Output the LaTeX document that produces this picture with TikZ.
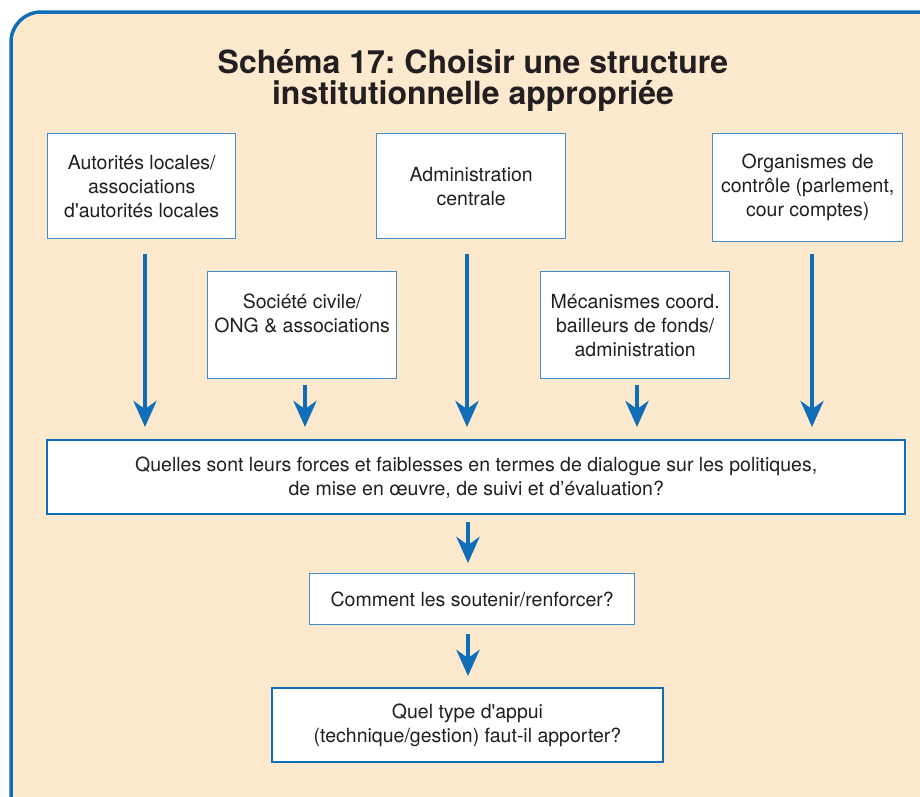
\documentclass[tikz,border=0pt]{standalone}
\usepackage{fontspec}
\setmainfont{TeX Gyre Heros}
\usepackage{tikz}
\usetikzlibrary{calc}
\usetikzlibrary{arrows.meta}
\frenchspacing

\definecolor{frameblue}{RGB}{16,110,184}
\definecolor{boxblue}{RGB}{70,140,200}
\definecolor{cream}{RGB}{253,234,206}
\definecolor{inkgrey}{RGB}{35,31,32}

\begin{document}
\begin{tikzpicture}[x = 1pt, y = -1pt]

\tikzstyle{box_top}=[rectangle, draw=boxblue, line width = 1.4, fill=white, inner sep = 0, anchor = north west, align = center, text = inkgrey, font = \fontsize{19.5}{24}\selectfont]
\tikzstyle{box_main}=[box_top, draw=frameblue, line width = 2.4]
\tikzstyle{flow}=[-{Stealth[length = 26pt, width = 23pt, inset = 8pt]}, line width = 4.5, color = frameblue]

\useasboundingbox (0, 0) rectangle (920, 796);
\clip (0, 0) rectangle (920, 796);

% background frame
\draw[line width = 3.5, draw = frameblue, fill = cream, rounded corners = 30] (11, 12) rectangle (980, 850);

\node[align = center, text = inkgrey, font = \fontsize{32}{31}\selectfont\bfseries] (title) at (473, 80) {Sch\'ema 17: Choisir une structure\\institutionnelle appropri\'ee};

% upper row
\node[box_top, minimum width = 188, minimum height = 105] (autorites) at (47, 133) {Autorit\'es locales/\\associations\\d\textquotesingle autorit\'es locales};
\node[box_top, minimum width = 189, minimum height = 105] (admin) at (376, 133) {Administration\\centrale};
\node[box_top, minimum width = 190, minimum height = 108] (controle) at (712, 133) {Organismes de\\contr\^ole (parlement,\\cour comptes)};

% lower row
\node[box_top, minimum width = 189, minimum height = 107] (civile) at (207, 271) {Soci\'et\'e civile/\\ONG \& associations\\\mbox{}};
\node[box_top, minimum width = 189, minimum height = 107] (bailleurs) at (540, 271) {M\'ecanismes coord.\\bailleurs de fonds/\\administration};

% questions
\node[box_main, minimum width = 858, minimum height = 74] (forces) at (46, 439) {Quelles sont leurs forces et faiblesses en termes de dialogue sur les politiques,\\de mise en \oe uvre, de suivi et d’\'evaluation?};
\node[box_top, minimum width = 325, minimum height = 51] (soutenir) at (309, 573) {Comment les soutenir/renforcer?};
\node[box_main, line width = 2, minimum width = 391, minimum height = 74] (appui) at (271, 687) {Quel type d\textquotesingle appui\\(technique/gestion) faut-il apporter?};

% arrow starts
\coordinate (s1) at (145, 254);
\coordinate (s2) at (305, 385);
\coordinate (s3) at (467, 254);
\coordinate (s4) at (637, 385);
\coordinate (s5) at (812, 254);
\coordinate (s6) at (468, 522);
\coordinate (s7) at (468, 634);

%arrows
\draw[flow, shorten >= 12] (s1) to (s1 |- forces.north);
\draw[flow, shorten >= 12] (s2) to (s2 |- forces.north);
\draw[flow, shorten >= 12] (s3) to (s3 |- forces.north);
\draw[flow, shorten >= 12] (s4) to (s4 |- forces.north);
\draw[flow, shorten >= 12] (s5) to (s5 |- forces.north);

\draw[flow, shorten >= 10] (s6) to (s6 |- soutenir.north);
\draw[flow, shorten >= 11] (s7) to (s7 |- appui.north);

\end{tikzpicture}
\end{document}
